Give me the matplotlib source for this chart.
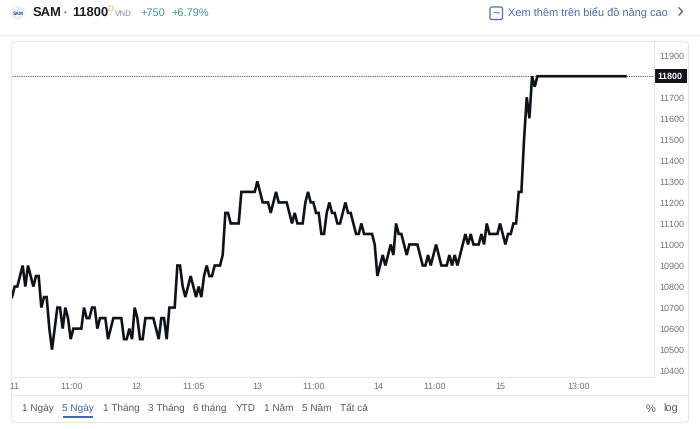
import matplotlib
matplotlib.use('Agg')
import matplotlib.pyplot as plt
from matplotlib.patches import FancyBboxPatch, Circle, Rectangle

plt.rcParams['font.family'] = ['Liberation Sans', 'DejaVu Sans']
plt.rcParams['text.hinting'] = 'none'
plt.rcParams['text.hinting_factor'] = 1

prices = [
    10750, 10800, 10800, 10850, 10900, 10800, 10900, 10850, 10800, 10850,
    10850, 10700, 10750, 10750, 10600, 10500, 10600, 10700, 10700, 10600,
    10700, 10650, 10550, 10600, 10600, 10600, 10600, 10700, 10650, 10650,
    10700, 10700, 10600, 10650, 10650, 10650, 10550, 10600, 10650, 10650,
    10650, 10650, 10550, 10550, 10600, 10550, 10700, 10650, 10550, 10550,
    10650, 10650, 10650, 10650, 10600, 10550, 10650, 10650, 10550, 10700,
    10700, 10700, 10900, 10900, 10800, 10750, 10800, 10850, 10800, 10750,
    10800, 10750, 10850, 10900, 10850, 10850, 10900, 10900, 10900, 10950,
    11150, 11150, 11100, 11100, 11100, 11100, 11250, 11250, 11250, 11250, 11250,
    11250, 11300, 11250, 11200, 11200, 11200, 11150, 11200, 11250, 11200,
    11200, 11200, 11200, 11150, 11100, 11150, 11100, 11100, 11100, 11200,
    11250, 11200, 11200, 11150, 11150, 11050, 11050, 11150, 11200, 11150,
    11150, 11100, 11100, 11150, 11200, 11150, 11150, 11100, 11050, 11050,
    11100, 11050, 11050, 11050, 11050, 11000, 10850, 10900, 10950, 10900,
    10950, 11000, 10950, 11100, 11050, 11050, 11000, 10950, 11000, 11000,
    11000, 11000, 10950, 10900, 10900, 10950, 10900, 10950, 11000, 10950,
    10900, 10900, 10900, 10950, 10900, 10950, 10900, 10950, 11000, 11050,
    11000, 11050, 11000, 11000, 11000, 11050, 11000, 11100, 11050, 11050,
    11050, 11050, 11100, 11050, 11000, 11050, 11050, 11100, 11100, 11250,
    11250, 11500, 11700, 11600, 11800, 11750, 11800, 11800, 11800, 11800,
    11800, 11800, 11800, 11800, 11800, 11800, 11800, 11800, 11800, 11800,
    11800, 11800, 11800, 11800, 11800, 11800, 11800, 11800, 11800, 11800,
    11800, 11800, 11800, 11800, 11800, 11800, 11800, 11800, 11800, 11800,
]
y_ticks = [10400, 10500, 10600, 10700, 10800, 10900, 11000, 11100, 11200,
           11300, 11400, 11500, 11600, 11700, 11900]
last_price = 11800
x_ticks = [1, 22.5, 46.5, 68, 92, 113, 137.5, 158.5, 183, 212.5]
x_labels = ['11', '11:00', '12', '11:05', '13', '11:00', '14', '11:00', '15', '13:00']
ranges = ['1 Ngày', '5 Ngày', '1 Tháng', '3 Tháng', '6 tháng', 'YTD', '1 Năm', '5 Năm', 'Tất cả']
range_x = [38, 78, 121.5, 166.5, 209.5, 245.5, 279, 317, 354]

W, H = 700, 429
fig = plt.figure(figsize=(W / 100, H / 100), dpi=100)

# overlay in pixel coordinates for the page furniture
page = fig.add_axes([0, 0, 1, 1])
page.set_xlim(0, W)
page.set_ylim(H, 0)
page.axis('off')

page.plot([0, W], [35, 35], color='#eeeff1', lw=1)
page.add_patch(FancyBboxPatch((11.5, 41.5), 677, 381, boxstyle='round,pad=0,rounding_size=4',
                              fc='white', ec='#e6e7ea', lw=0.8))
page.plot([11.5, 688], [395, 395], color='#e6e7ea', lw=0.8)
page.add_patch(Rectangle((653.5, 69), 33.5, 13.5, fc='#12141c', ec='none'))

# header
page.add_patch(Circle((18, 13), 7, fc='#eef1f8', ec='none'))
page.text(18, 13.5, 'SAM', fontsize=3.5, color='#2f4f9a', weight='bold', ha='center', va='center')
page.text(33, 13, 'SAM', fontsize=9.5, weight='bold', color='#1c1e26', va='center')
page.text(65, 13, '•', fontsize=6, color='#777777', ha='center', va='center')
page.text(72, 13, '11800', fontsize=9.5, weight='bold', color='#1c1e26', va='center')
page.text(107, 8.5, 'D', fontsize=5.5, color='#e8b33c', va='center')
page.text(115, 14, 'VND', fontsize=5.5, color='#8a8d96', va='center')
page.text(140, 13, '+750', fontsize=8, color='#3f9a8c', va='center')
page.text(171, 13, '+6.79%', fontsize=8, color='#3f9a8c', va='center')

# link to the advanced chart
page.add_patch(FancyBboxPatch((490, 7), 12.5, 12.5, boxstyle='round,pad=0,rounding_size=2',
                              fc='white', ec='#4a6bb0', lw=0.9))
page.text(496.2, 13, '~', fontsize=9, color='#4a6bb0', ha='center', va='center')
page.text(508, 13, 'Xem thêm trên biểu đồ nâng cao', fontsize=8.1, color='#4a6bb0', va='center')
page.text(676, 12.5, '›', fontsize=15, color='#4a6bb0', va='center')

# range selector
for label, x in zip(ranges, range_x):
    color = '#3f63ad' if label == '5 Ngày' else '#555a66'
    page.text(x, 408.5, label, fontsize=7.5, color=color, ha='center', va='center')
page.plot([63.5, 92], [417, 417], color='#3f63ad', lw=1.4)
page.text(651, 409, '%', fontsize=8, color='#555a66', ha='center', va='center')
page.text(671, 409, 'log', fontsize=8, color='#555a66', ha='center', va='center')

# price panel
left, right, top, bottom = 12, 653.5, 41.5, 377
ax = fig.add_axes([left / W, 1 - bottom / H, (right - left) / W, (bottom - top) / H])
ax.patch.set_alpha(0)
ax.plot(range(len(prices)), prices, color='#10121a', lw=1.9, solid_joinstyle='miter', zorder=3)
ax.axhline(last_price, color='#444444', lw=0.6, ls=(0, (1.5, 1.2)), zorder=2)

ax.set_xlim(0, (right - left) / 2.667)
ax.set_ylim(10370, 11965)
ax.yaxis.tick_right()
ax.set_yticks(y_ticks)
ax.set_xticks(x_ticks)
ax.set_xticklabels(x_labels)
ax.tick_params(axis='both', length=0, labelsize=6.4, labelcolor='#6f727a')
ax.tick_params(axis='y', pad=4.5)
ax.tick_params(axis='x', pad=4)
for name in ['top', 'left']:
    ax.spines[name].set_visible(False)
for name in ['right', 'bottom']:
    ax.spines[name].set_color('#e6e7ea')
    ax.spines[name].set_linewidth(0.8)

ax.annotate(str(last_price), xy=(1, last_price), xycoords=('axes fraction', 'data'),
            xytext=(16.5, 0), textcoords='offset pixels', ha='center', va='center',
            fontsize=6.4, weight='bold', color='white')

fig.savefig('out.png', dpi=100)
